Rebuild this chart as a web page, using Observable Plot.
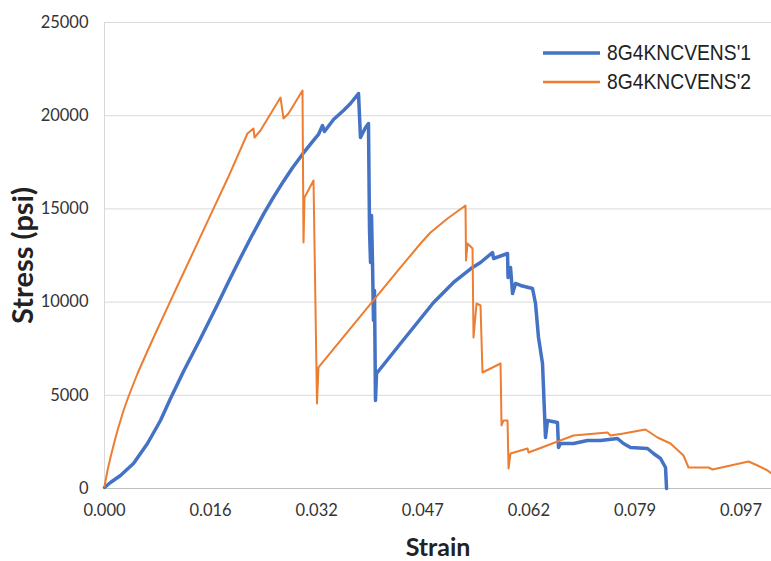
<!DOCTYPE html>
<html><head><meta charset="utf-8">
<script src="https://cdn.jsdelivr.net/npm/d3@7"></script>
<script src="https://cdn.jsdelivr.net/npm/@observablehq/plot@0.6"></script>
<style>
body{margin:0;background:#fff;}
#wrap{position:relative;width:771px;height:561px;overflow:hidden;}
.legend{position:absolute;left:543px;top:38px;font-family:"Liberation Sans",Arial,sans-serif;font-size:19.3px;color:#222;}
.legend .row{display:flex;align-items:center;height:29.5px;}
.legend svg{margin-right:7px;display:block}
.legend span{display:inline-block;transform:scaleY(1.12);}
</style></head><body><div id="wrap"></div>
<script>
const seriesNames = ["8G4KNCVENS'1", "8G4KNCVENS'2"];
const seriesColors = ["#4472C4", "#ED7D31"];
const xTicks = [0, 0.016, 0.032, 0.047, 0.062, 0.079, 0.097];
const xEnd = 0.10216;
const yTicks = [0, 5000, 10000, 15000, 20000, 25000];

const strain1 = [0,0.00090,0.00241,0.00437,0.00648,0.00844,0.00995,0.01191,0.01448,0.01719,0.01870,0.02051,0.02202,0.02398,0.02549,0.02700,0.02835,0.02986,0.03137,0.03225,0.03282,0.03310,0.03438,0.03579,0.03678,0.03791,0.03819,0.03890,0.03932,0.03947,0.03961,0.03975,0.03989,0.04003,0.04017,0.04031,0.04046,0.04385,0.04852,0.05134,0.05403,0.05516,0.05686,0.05700,0.05898,0.05905,0.05940,0.05969,0.06011,0.06082,0.06258,0.06306,0.06354,0.06418,0.06466,0.06498,0.06658,0.06674,0.06706,0.06914,0.07139,0.07347,0.07619,0.07715,0.07828,0.08112,0.08214,0.08333,0.08418,0.08435];
const stress1 = [54,322,697,1341,2414,3648,4829,6277,8048,9979,11089,12377,13423,14716,15628,16487,17211,17935,18606,18992,19475,19153,19797,20280,20655,21192,18831,19368,19582,13842,12125,14646,12125,9013,10623,4721,6170,7779,9979,11052,11857,12125,12661,12340,12608,11320,11857,10462,10998,10891,10730,9925,8101,6706,2736,3648,3541,2200,2414,2414,2575,2575,2683,2414,2200,2146,1878,1610,1127,0];

const strain2 = [0,0.00045,0.00090,0.00151,0.00196,0.00287,0.00362,0.00498,0.00648,0.00799,0.00950,0.01101,0.01297,0.01598,0.01855,0.02156,0.02247,0.02262,0.02352,0.02654,0.02699,0.02775,0.02986,0.03001,0.03016,0.03152,0.03182,0.03204,0.03225,0.04385,0.04668,0.04809,0.05050,0.05304,0.05311,0.05332,0.05403,0.05417,0.05460,0.05516,0.05544,0.05799,0.05813,0.05841,0.05898,0.05912,0.05940,0.06181,0.06195,0.06914,0.07459,0.07507,0.07715,0.08078,0.08282,0.08502,0.08723,0.08808,0.09147,0.09215,0.09826,0.09979,0.10149,0.10216];
const stress2 = [107,966,1663,2522,3112,4185,4936,6170,7377,8557,9721,10875,12366,14663,16615,19046,19314,18831,19207,20977,19851,20119,21352,13198,15612,16524,9657,4560,6492,11857,13144,13734,14486,15183,12232,13144,12876,8101,9925,9818,6223,6706,3380,3648,3648,1073,1878,2146,1931,2843,3004,2843,2951,3165,2736,2414,1770,1127,1127,1019,1449,1234,966,805];

const data1 = strain1.map((x, i) => ({x, y: stress1[i]}));
const data2 = strain2.map((x, i) => ({x, y: stress2[i]}));

const W = 771, H = 561, ML = 104, MT = 22, MB = 73;
const step = 106.1;
const xDomain = xTicks.concat([xEnd]);
const xRange = xTicks.map((_, i) => ML + i * step).concat([W]);

const chart = Plot.plot({
  width: W, height: H,
  marginLeft: ML, marginRight: 0, marginTop: MT, marginBottom: MB,
  style: {fontFamily: "Lato, 'Open Sans', sans-serif", color: "#333", background: "#fff"},
  x: {type: "linear", domain: xDomain, range: xRange},
  y: {domain: [0, 25000]},
  marks: [
    Plot.gridY(yTicks, {stroke: "#d9d9d9", strokeOpacity: 1}),
    Plot.ruleX([0], {stroke: "#d9d9d9"}),
    Plot.ruleY([0], {stroke: "#bfbfbf", strokeWidth: 1.2}),
    Plot.axisX({ticks: xTicks, tickFormat: d3.format(".3f"), tickSize: 0, tickPadding: 16, fontSize: 16.5, label: null}),
    Plot.axisY({ticks: yTicks, tickFormat: d3.format("d"), tickSize: 0, tickPadding: 16, fontSize: 16.5, label: null}),
    Plot.line(data1, {x: "x", y: "y", stroke: seriesColors[0], strokeWidth: 3.5, strokeLinejoin: "round"}),
    Plot.line(data2, {x: "x", y: "y", stroke: seriesColors[1], strokeWidth: 2, strokeLinejoin: "round"}),
    Plot.text(["Stress (psi)"], {text: d => d, frameAnchor: "left", textAnchor: "middle", lineAnchor: "middle", dx: -81, rotate: -90, fontSize: 29, fontWeight: "bold", fill: "#222"}),
    Plot.text(["Strain"], {text: d => d, frameAnchor: "bottom", textAnchor: "middle", lineAnchor: "middle", dy: 59, fontSize: 25, fontWeight: "bold", fill: "#222"})
  ]
});
const wrap = document.getElementById("wrap");
wrap.appendChild(chart);

const legend = document.createElement("div");
legend.className = "legend";
seriesNames.forEach((name, i) => {
  const row = document.createElement("div");
  row.className = "row";
  row.innerHTML = `<svg width="57" height="6"><line x1="0" x2="57" y1="3" y2="3" stroke="${seriesColors[i]}" stroke-width="${i === 0 ? 3.5 : 2.5}"/></svg><span>${name}</span>`;
  legend.appendChild(row);
});
wrap.appendChild(legend);
</script>
</body></html>
